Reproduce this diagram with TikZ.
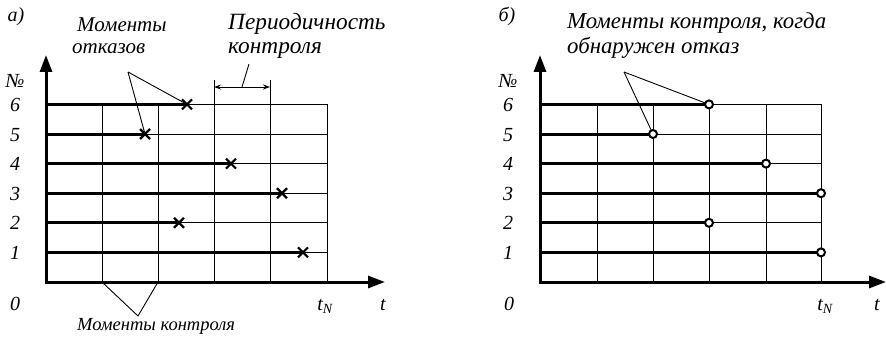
\documentclass[tikz,border=0pt]{standalone}
\usepackage{fontspec}
\setmainfont{Liberation Serif}
\usetikzlibrary{arrows.meta,calc}
\begin{document}
\begin{tikzpicture}[x=1pt,y=-1pt,
  lbl/.style={font=\fontsize{20}{22}\selectfont\itshape, inner sep=0pt, anchor=base},
  lblw/.style={lbl, anchor=base west},
  gridline/.style={line width=1pt},
  thickline/.style={line width=3pt},
  axis/.style={line width=3pt, -{Triangle[length=17pt,width=12pt]}},
  leader/.style={line width=0.9pt},
  dim/.style={line width=0.9pt, {Stealth[length=7pt,width=5pt]}-{Stealth[length=7pt,width=5pt]}},
  crossmark/.style={line width=2.2pt},
  ring/.style={circle, draw, line width=2pt, fill=white, minimum size=8pt, inner sep=0pt}
]
\useasboundingbox (0,0) rectangle (886,337);
% ================= panel a =================
% grid
\foreach \y in {104.4,134,163.6,193.2,222.8,252.4} \draw[gridline] (46,\y) -- (327,\y);
\foreach \x in {102,158,214,270,327} \draw[gridline] (\x,282) -- (\x,104.4);
\draw[gridline] (214,104.4) -- (214,80);
\draw[gridline] (270,104.4) -- (270,80);
\coordinate (pa1) at (214,87);
\coordinate (pa2) at (270,87);
\draw[dim] (pa1) -- (pa2);
% axes
\coordinate (oa) at (46,282);
\coordinate (ya) at (46,55);
\coordinate (xa) at (385,282);
\draw[axis] (oa) -- (xa);
\draw[axis] (46,283.5) -- (ya);
% failure lines
\coordinate (f6) at (187,104.4);
\coordinate (f5) at (145,134);
\coordinate (f4) at (231,163.6);
\coordinate (f3) at (282,193.2);
\coordinate (f2) at (179,222.8);
\coordinate (f1) at (303,252.4);
\foreach \c/\y in {f6/104.4,f5/134,f4/163.6,f3/193.2,f2/222.8,f1/252.4}{
  \draw[thickline] (46,\y) -- (\c);
  \draw[crossmark] ($(\c)+(-5,-5)$) -- ($(\c)+(5,5)$);
  \draw[crossmark] ($(\c)+(-5,5)$) -- ($(\c)+(5,-5)$);
}
% labels
\node[lbl] (la) at (16,22) {а)};
\node[lblw,font=\fontsize{21}{22}\selectfont\itshape] (m1) at (77,32) {Моменты};
\node[lblw,font=\fontsize{21}{22}\selectfont\itshape] (m2) at (72,53) {отказов};
\node[lblw,font=\fontsize{23.3}{24}\selectfont\itshape] (p1) at (228,30) {Периодичность};
\node[lblw,font=\fontsize{23.3}{24}\selectfont\itshape] (p2) at (228,53) {контроля};
\coordinate (ma) at (128,72);
\draw[leader] (ma) -- (f6);
\draw[leader] (ma) -- (f5);
\coordinate (pm) at (242,87);
\coordinate (pt) at (249,64);
\draw[leader] (pm) -- (pt);
\node[lbl] (na) at (15,88) {№};
\foreach \n/\y in {6/104.4,5/134,4/163.6,3/193.2,2/222.8,1/252.4}
  \node[lbl] (ra\n) at (15,\y+7) {\n};
\node[lbl] (za) at (15,310) {0};
\node[lbl] (tna) at (325,310) {t\textsubscript{\fontsize{14}{14}\selectfont N}};
\node[lbl] (ta) at (383,310) {t};
\node[lblw,font=\fontsize{18.5}{20}\selectfont\itshape] (mk) at (77,330) {Моменты контроля};
\coordinate (mkc) at (138,316);
\coordinate (c1) at (102,282);
\coordinate (c2) at (158,282);
\draw[leader] (c1) -- (mkc) -- (c2);
% ================= panel b =================
\foreach \y in {104.4,134,163.6,193.2,222.8,252.4} \draw[gridline] (540,\y) -- (821,\y);
\foreach \x in {597,653,709,766,821} \draw[gridline] (\x,282) -- (\x,104.4);
\coordinate (ob) at (540,282);
\coordinate (yb) at (540,55);
\coordinate (xb) at (886,282);
\draw[axis] (ob) -- (xb);
\draw[axis] (540,283.5) -- (yb);
\coordinate (d6) at (709,104.4);
\coordinate (d5) at (653,134);
\coordinate (d4) at (766,163.6);
\coordinate (d3) at (821,193.2);
\coordinate (d2) at (709,222.8);
\coordinate (d1) at (821,252.4);
\coordinate (mb) at (624,72);
\draw[leader] (mb) -- (d6);
\draw[leader] (mb) -- (d5);
\foreach \c/\y in {d6/104.4,d5/134,d4/163.6,d3/193.2,d2/222.8,d1/252.4}{
  \draw[thickline] (540,\y) -- (\c);
  \node[ring] at (\c) {};
}
\node[lbl] (lb) at (507,22) {б)};
\node[lblw,font=\fontsize{22.8}{24}\selectfont\itshape] (k1) at (567,29) {Моменты контроля, когда};
\node[lblw,font=\fontsize{22.8}{24}\selectfont\itshape] (k2) at (567,53) {обнаружен отказ};
\node[lbl] (nb) at (508,88) {№};
\foreach \n/\y in {6/104.4,5/134,4/163.6,3/193.2,2/222.8,1/252.4}
  \node[lbl] (rb\n) at (508,\y+7) {\n};
\node[lbl] (zb) at (509,310) {0};
\node[lbl] (tnb) at (825,310) {t\textsubscript{\fontsize{14}{14}\selectfont N}};
\node[lbl] (tb) at (877,310) {t};
\end{tikzpicture}
\end{document}
